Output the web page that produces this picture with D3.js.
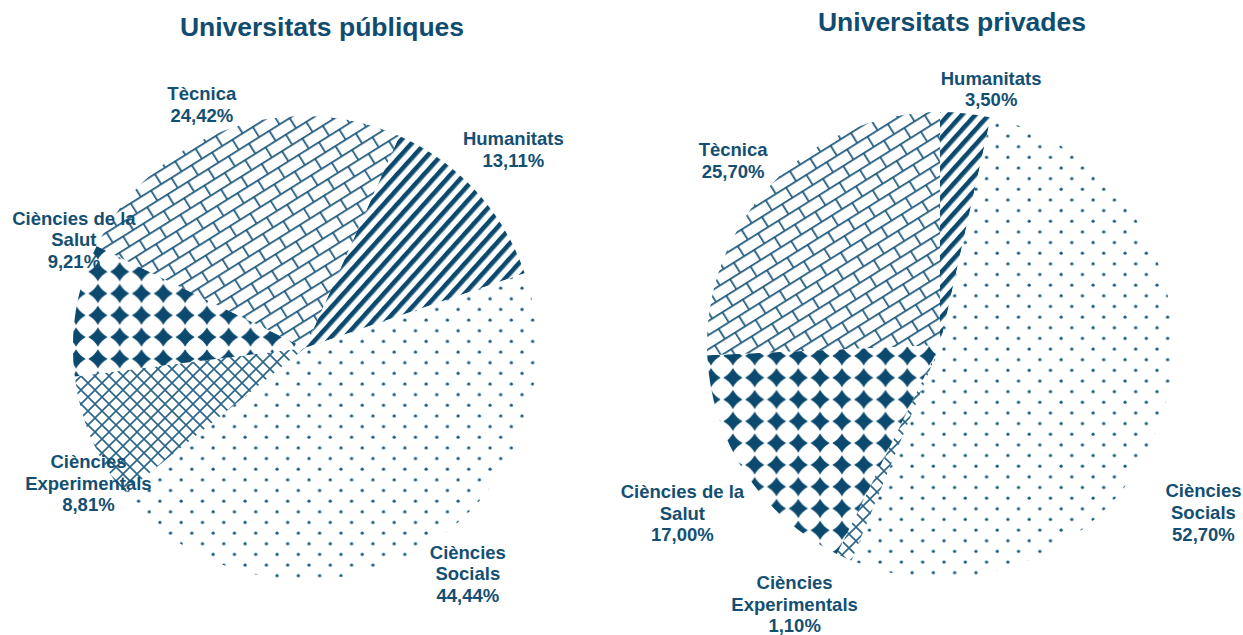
<!DOCTYPE html>
<html><head><meta charset="utf-8">
<script src="https://cdn.jsdelivr.net/npm/d3@7"></script>
<style>body{margin:0;background:#fff}svg{display:block}</style>
</head><body>
<svg id="c" width="1243" height="635"></svg>
<script>
// ---- data ----
const categories = ["Humanitats", "Ciències Socials", "Ciències Experimentals", "Ciències de la Salut", "Tècnica"];
const publicValues = [13.11, 44.44, 8.81, 9.21, 24.42];
const privateValues = [3.50, 52.70, 1.10, 17.00, 25.70];
const titles = ["Universitats públiques", "Universitats privades"];
const labelLines = [["Humanitats"], ["Ciències", "Socials"], ["Ciències", "Experimentals"], ["Ciències de la", "Salut"], ["Tècnica"]];

// ---- layout ----
const C = "#0b4a6e";
const svg = d3.select("#c");
const defs = svg.append("defs");

function pat(id, w, h, tf) {
  const p = defs.append("pattern").attr("id", id).attr("patternUnits", "userSpaceOnUse")
    .attr("width", w).attr("height", h);
  if (tf) p.attr("patternTransform", tf);
  p.append("rect").attr("width", w).attr("height", h).attr("fill", "#fff");
  return p;
}
// stripes (Humanitats)
{
  const p = pat("p0", 10, 20, "rotate(42)");
  p.append("rect").attr("x", 0).attr("y", 0).attr("width", 4.6).attr("height", 20).attr("fill", C);
}
// dots (Socials)
{
  const s = 21.3;
  const p = pat("p1", s, s);
  p.append("circle").attr("cx", 4).attr("cy", 4).attr("r", 1.6).attr("fill", "#1d5b80");
  p.append("circle").attr("cx", 4 + s / 2).attr("cy", 4 + s / 2).attr("r", 1.6).attr("fill", "#1d5b80");
}
// outlined diamonds (Experimentals)
{
  const s = 14;
  const p = pat("p2", s, s);
  p.append("path").attr("d", `M0,0L${s},${s}M${s},0L0,${s}`).attr("stroke", "#2a6488").attr("stroke-width", 1.6).attr("fill", "none");
}
// solid diamonds (Salut)
{
  const s = 21.8, c = s / 2, d = 9.6, k = 3.4;
  const p = pat("p3", s, s);
  p.append("path").attr("d",
    `M${c},${c - d}Q${c + k},${c - k} ${c + d},${c}Q${c + k},${c + k} ${c},${c + d}Q${c - k},${c + k} ${c - d},${c}Q${c - k},${c - k} ${c},${c - d}Z`)
    .attr("fill", C);
}
// diagonal brick (Tècnica)
{
  const w = 24, h = 24, r = 12;
  const p = pat("p4", w, h, "rotate(-32)");
  p.append("path").attr("d", `M0,0.8H${w}M0,${r + 0.8}H${w}M0.8,0.8V${r + 0.8}M${w / 2 + 0.8},${r + 0.8}V${h + 0.8}`)
    .attr("stroke", "#1f5a7f").attr("stroke-width", 1.8).attr("fill", "none");
}

const pies = [
  { values: publicValues, cx: 305, cy: 348, r: 232, start: 24, tx: 322, ty: 36,
    lab: [[1.24, -1.2], [1.2, -7], [1.1, -9], [1.1, 15.6], [1.14, -3]] },
  { values: privateValues, cx: 940, cy: 345, r: 233, start: 0, tx: 952, ty: 31,
    lab: [[1.12, 5], [1.34, 15], [1.275, 5], [1.32, 0], [1.19, -2]] }
];

pies.forEach((P, pi) => {
  const values = P.values;
  const pie = d3.pie().sort(null).value(d => d)
    .startAngle(P.start * Math.PI / 180).endAngle(P.start * Math.PI / 180 + 2 * Math.PI);
  const arcs = pie(values);
  const arc = d3.arc().innerRadius(0).outerRadius(P.r);
  svg.append("g").selectAll("path").data(arcs).join("path")
    .attr("d", d => arc(d))
    .attr("transform", `translate(${P.cx},${P.cy})`)
    .attr("fill", (d, i) => `url(#p${i})`);

  svg.append("text").attr("x", P.tx).attr("y", P.ty).attr("text-anchor", "middle")
    .attr("font-family", "Liberation Sans, Arial, sans-serif").attr("font-weight", "bold")
    .attr("font-size", 26.5).attr("fill", "#0f4c70").text(titles[pi]);

  arcs.forEach((a, i) => {
    const [rf, dAng] = P.lab[i];
    const mid = (a.startAngle + a.endAngle) / 2 + dAng * Math.PI / 180;
    const R = P.r * rf;
    const x = P.cx + Math.sin(mid) * R, y = P.cy - Math.cos(mid) * R;
    const lines = labelLines[i].concat([d3.format(".2f")(values[i]).replace(".", ",") + "%"]);
    const t = svg.append("text").attr("text-anchor", "middle")
      .attr("font-family", "Liberation Sans, Arial, sans-serif").attr("font-weight", "bold")
      .attr("font-size", 18.5).attr("fill", "#144f72");
    const n = lines.length;
    lines.forEach((s, j) => {
      t.append("tspan").attr("x", x).attr("y", y + (j - (n - 1) / 2) * 21.6 + 6.5).text(s);
    });
  });
});
</script>
</body></html>
